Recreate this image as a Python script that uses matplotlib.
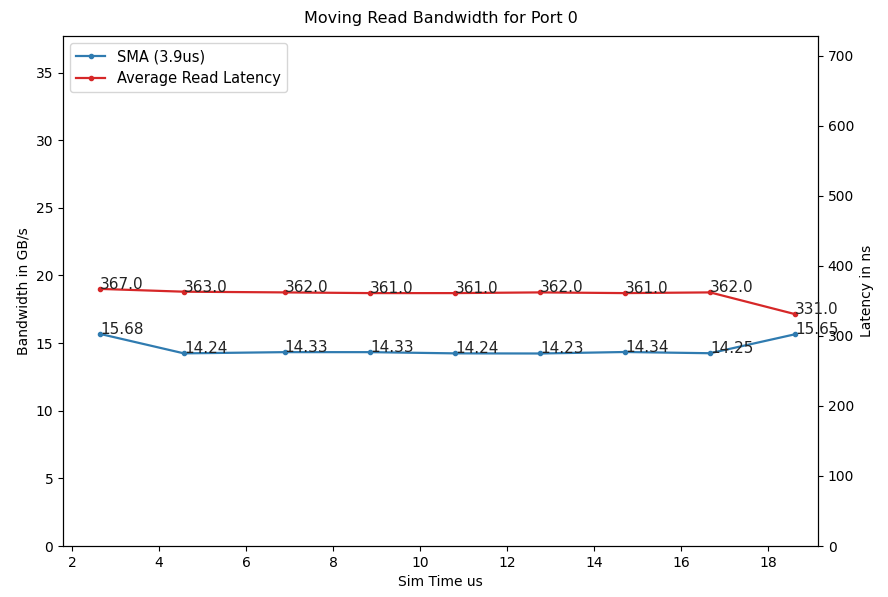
import matplotlib
matplotlib.use("Agg")
import matplotlib.pyplot as plt

# sim time (us) of each window
sim_time = [2.64, 4.57, 6.89, 8.85, 10.80, 12.76, 14.71, 16.67, 18.62]
# bandwidth (GB/s), simple moving average
sma_bw = [15.68, 14.24, 14.33, 14.33, 14.24, 14.23, 14.34, 14.25, 15.65]
# average read latency (ns)
avg_lat = [367.0, 363.0, 362.0, 361.0, 361.0, 362.0, 361.0, 362.0, 331.0]

BLUE = "#2f7bb0"
RED = "#d62728"

fig = plt.figure(figsize=(8.88, 5.97), dpi=100)
ax = fig.add_axes([63 / 888, 51 / 597, 755 / 888, 510 / 597])
ax2 = ax.twinx()

l1, = ax.plot(sim_time, sma_bw, marker=".", color=BLUE, lw=1.6, label="SMA (3.9us)")
for x, v in zip(sim_time, sma_bw):
    ax.text(x, v, f"{v:.2f}", fontsize=11, ha="left", va="baseline", color="#222222")

l2, = ax2.plot(sim_time, avg_lat, marker=".", color=RED, lw=1.6, label="Average Read Latency")
for x, v in zip(sim_time, avg_lat):
    ax2.text(x, v, f"{v:.1f}", fontsize=11, ha="left", va="baseline", color="#222222")

ax.set_xlim(1.79, 19.15)
ax.set_ylim(0, 37.7)
ax2.set_ylim(0, 728)
ax.set_xticks(range(2, 19, 2))
ax.set_yticks(range(0, 36, 5))
ax2.set_yticks(range(0, 701, 100))

ax.set_xlabel("Sim Time us")
ax.set_ylabel("Bandwidth in GB/s")
ax2.set_ylabel("Latency in ns")
ax.set_title("Moving Read Bandwidth for Port 0", fontsize=11.5, pad=9)

ax.legend(handles=[l1, l2], loc="upper left", fontsize=10.5)

fig.savefig("out.png", dpi=100, facecolor="white")
